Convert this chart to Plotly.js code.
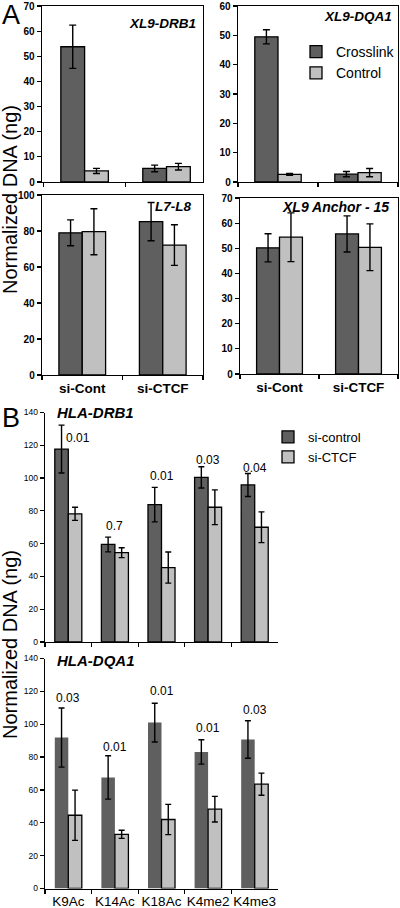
<!DOCTYPE html>
<html>
<head>
<meta charset="utf-8">
<script src="https://cdn.plot.ly/plotly-3.0.1.min.js"></script>
<style>html,body{margin:0;padding:0;background:#fff}#chart{width:400px;height:908px}</style>
</head>
<body>
<div id="chart"></div>
<script>
// ---------- Panel A data ----------
const groupsA = ['si-Cont', 'si-CTCF'];
const seriesA = ['Crosslink', 'Control'];

const drb1Crosslink = [53.8, 5.4];
const drb1CrosslinkErr = [8.6, 1.3];
const drb1Control = [4.4, 6.1];
const drb1ControlErr = [1.0, 1.3];

const dqa1Crosslink = [49.5, 2.7];
const dqa1CrosslinkErr = [2.4, 0.9];
const dqa1Control = [2.6, 3.2];
const dqa1ControlErr = [0.3, 1.4];

const l7l8Crosslink = [79.0, 85.2];
const l7l8CrosslinkErr = [7.2, 10.6];
const l7l8Control = [79.6, 72.2];
const l7l8ControlErr = [12.8, 11.3];

const anchorCrosslink = [50.2, 55.7];
const anchorCrosslinkErr = [5.6, 7.2];
const anchorControl = [54.4, 50.4];
const anchorControlErr = [9.7, 9.3];

// ---------- Panel B data ----------
const marks = ['K9Ac', 'K14Ac', 'K18Ac', 'K4me2', 'K4me3'];
const seriesB = ['si-control', 'si-CTCF'];

const drbSiControl = [117.7, 59.5, 83.8, 100.4, 95.8];
const drbSiControlErr = [14.6, 4.5, 10.5, 6.5, 7.0];
const drbSiCTCF = [78.2, 54.5, 45.4, 82.2, 70.0];
const drbSiCTCFErr = [4.0, 3.0, 9.5, 10.6, 9.4];
const drbPValues = ['0.01', '0.7', '0.01', '0.03', '0.04'];
const drbPLabelY = [124.5, 71, 101.5, 111, 106];

const dqaSiControl = [91.9, 67.6, 101.0, 83.1, 90.7];
const dqaSiControlErr = [18.0, 13.2, 11.8, 7.4, 11.4];
const dqaSiCTCF = [44.6, 33.0, 42.0, 48.3, 63.5];
const dqaSiCTCFErr = [15.3, 2.5, 9.2, 7.8, 6.7];
const dqaPValues = ['0.03', '0.01', '0.01', '0.01', '0.03'];
const dqaPLabelY = [116, 86, 120, 98, 108.5];

// ---------- styling ----------
const W = 400, H = 908;
const px = v => v / W;
const py = v => 1 - v / H;
const DARK = 'rgb(95,95,95)';
const LIGHT = 'rgb(192,192,192)';
const FONT = 'Liberation Sans, Arial, sans-serif';

function bar(name, x, y, err, color, xa, ya, opts) {
  opts = opts || {};
  return {
    type: 'bar', name: name, x: x, y: y,
    xaxis: xa, yaxis: ya,
    marker: {color: color, line: {color: '#000', width: opts.lineWidth === undefined ? 1.3 : opts.lineWidth}},
    error_y: {type: 'data', array: err, visible: true, color: '#000', thickness: 1.4, width: opts.cap || 3.5},
    showlegend: !!opts.legend, legend: opts.legend || 'legend',
    hoverinfo: 'skip'
  };
}

const data = [
  bar(seriesA[0], groupsA, drb1Crosslink, drb1CrosslinkErr, DARK, 'x', 'y'),
  bar(seriesA[1], groupsA, drb1Control, drb1ControlErr, LIGHT, 'x', 'y'),
  bar(seriesA[0], groupsA, dqa1Crosslink, dqa1CrosslinkErr, DARK, 'x2', 'y2', {legend: 'legend'}),
  bar(seriesA[1], groupsA, dqa1Control, dqa1ControlErr, LIGHT, 'x2', 'y2', {legend: 'legend'}),
  bar(seriesA[0], groupsA, l7l8Crosslink, l7l8CrosslinkErr, DARK, 'x3', 'y3'),
  bar(seriesA[1], groupsA, l7l8Control, l7l8ControlErr, LIGHT, 'x3', 'y3'),
  bar(seriesA[0], groupsA, anchorCrosslink, anchorCrosslinkErr, DARK, 'x4', 'y4'),
  bar(seriesA[1], groupsA, anchorControl, anchorControlErr, LIGHT, 'x4', 'y4'),
  bar(seriesB[0], marks, drbSiControl, drbSiControlErr, DARK, 'x5', 'y5', {legend: 'legend2', cap: 3}),
  bar(seriesB[1], marks, drbSiCTCF, drbSiCTCFErr, LIGHT, 'x5', 'y5', {legend: 'legend2', cap: 3}),
  bar(seriesB[0], marks, dqaSiControl, dqaSiControlErr, DARK, 'x6', 'y6', {lineWidth: 0, cap: 3}),
  bar(seriesB[1], marks, dqaSiCTCF, dqaSiCTCFErr, LIGHT, 'x6', 'y6', {cap: 3})
];

function xAxisA(domain, anchor, showLabels, range) {
  const a = {
    domain: domain, anchor: anchor, type: 'category',
    showline: true, linecolor: '#000', linewidth: 1.3, mirror: true,
    ticks: 'outside', tickson: 'boundaries', ticklen: 4, tickwidth: 1.2, tickcolor: '#000',
    showgrid: false, zeroline: false, fixedrange: true, tickangle: 0,
    showticklabels: showLabels,
    tickfont: {family: FONT, size: 13.5, color: '#000', weight: 'bold'}
  };
  if (range) a.range = range;
  return a;
}
function yAxisA(domain, anchor, max, dtick) {
  return {
    domain: domain, anchor: anchor, range: [0, max], dtick: dtick, tick0: 0,
    showline: true, linecolor: '#000', linewidth: 1.3, mirror: true,
    ticks: 'outside', ticklen: 4, tickwidth: 1.2, tickcolor: '#000',
    showgrid: false, zeroline: false, fixedrange: true,
    tickfont: {family: FONT, size: 10, color: '#000', weight: 'bold'}
  };
}
function xAxisB(domain, anchor, showLabels) {
  return {
    domain: domain, anchor: anchor, type: 'category',
    showline: true, linecolor: '#000', linewidth: 1.3,
    ticks: 'outside', tickson: 'boundaries', ticklen: 4, tickwidth: 1.2, tickcolor: '#000',
    showgrid: false, zeroline: false, fixedrange: true, tickangle: 0,
    showticklabels: showLabels,
    tickfont: {family: FONT, size: 13.5, color: '#000'}
  };
}
function yAxisB(domain, anchor) {
  return {
    domain: domain, anchor: anchor, range: [0, 140], dtick: 20, tick0: 0,
    showline: true, linecolor: '#000', linewidth: 1.3,
    ticks: 'outside', ticklen: 4, tickwidth: 1.2, tickcolor: '#000',
    showgrid: false, zeroline: false, fixedrange: true,
    tickfont: {family: FONT, size: 8.5, color: '#000'}
  };
}

const annotations = [];
function txt(text, x, y, size, opts) {
  opts = opts || {};
  annotations.push({
    text: text, xref: 'paper', yref: 'paper', x: px(x), y: py(y),
    showarrow: false, xanchor: opts.xanchor || 'center', yanchor: 'middle',
    font: {family: FONT, size: size, color: '#000', weight: opts.weight || 'normal', style: opts.style || 'normal'},
    textangle: opts.angle || 0
  });
}
txt('A', 0, 15, 27, {xanchor: 'left'});
txt('B', 0, 418, 27, {xanchor: 'left'});
txt('Normalized DNA (ng)', 10, 200, 20, {angle: -90});
txt('Normalized DNA (ng)', 10, 645, 20, {angle: -90});
txt('XL9-DRB1', 198, 23, 13.5, {xanchor: 'right', weight: 'bold', style: 'italic'});
txt('XL9-DQA1', 394, 16, 13.5, {xanchor: 'right', weight: 'bold', style: 'italic'});
txt('L7-L8', 193, 206, 13.5, {xanchor: 'right', weight: 'bold', style: 'italic'});
txt('XL9 Anchor - 15', 391, 207, 14, {xanchor: 'right', weight: 'bold', style: 'italic'});
txt('HLA-DRB1', 55, 413, 15, {xanchor: 'left', weight: 'bold', style: 'italic'});
txt('HLA-DQA1', 55, 660, 15, {xanchor: 'left', weight: 'bold', style: 'italic'});

marks.forEach((m, i) => {
  annotations.push({
    text: drbPValues[i], xref: 'x5', yref: 'y5', x: m, y: drbPLabelY[i],
    xshift: i === 0 ? 10 : 0, showarrow: false, xanchor: 'center', yanchor: 'middle',
    font: {family: FONT, size: 12, color: '#000'}
  });
  annotations.push({
    text: dqaPValues[i], xref: 'x6', yref: 'y6', x: m, y: dqaPLabelY[i],
    showarrow: false, xanchor: 'center', yanchor: 'middle',
    font: {family: FONT, size: 12, color: '#000'}
  });
});

const layout = {
  width: W, height: H,
  margin: {l: 0, r: 0, t: 0, b: 0},
  paper_bgcolor: '#fff', plot_bgcolor: 'rgba(0,0,0,0)',
  barmode: 'group', bargap: 0.42, bargroupgap: 0,
  font: {family: FONT, color: '#000'},
  xaxis: xAxisA([px(42), px(203)], 'y', false, [-0.52, 1.445]),
  yaxis: yAxisA([py(182), py(6)], 'x', 70, 10),
  xaxis2: xAxisA([px(238), px(398)], 'y2', false),
  yaxis2: yAxisA([py(182), py(6)], 'x2', 60, 10),
  xaxis3: xAxisA([px(42), px(203)], 'y3', true),
  yaxis3: yAxisA([py(375), py(195)], 'x3', 100, 20),
  xaxis4: xAxisA([px(240), px(398)], 'y4', true),
  yaxis4: yAxisA([py(374), py(198)], 'x4', 70, 10),
  xaxis5: xAxisB([px(45), px(278)], 'y5', false),
  yaxis5: yAxisB([py(642), py(412.5)], 'x5'),
  xaxis6: xAxisB([px(45), px(278)], 'y6', true),
  yaxis6: yAxisB([py(888.5), py(658.5)], 'x6'),
  legend: {
    x: px(296), y: py(36), xanchor: 'left', yanchor: 'top',
    bgcolor: 'rgba(0,0,0,0)', borderwidth: 0, tracegroupgap: 0,
    font: {family: FONT, size: 14, color: '#000'}
  },
  legend2: {
    x: px(268), y: py(422), xanchor: 'left', yanchor: 'top',
    bgcolor: 'rgba(0,0,0,0)', borderwidth: 0, tracegroupgap: 0,
    font: {family: FONT, size: 13, color: '#000'}
  },
  annotations: annotations,
  showlegend: true
};

Plotly.newPlot('chart', data, layout, {staticPlot: true, displayModeBar: false});
</script>
</body>
</html>
